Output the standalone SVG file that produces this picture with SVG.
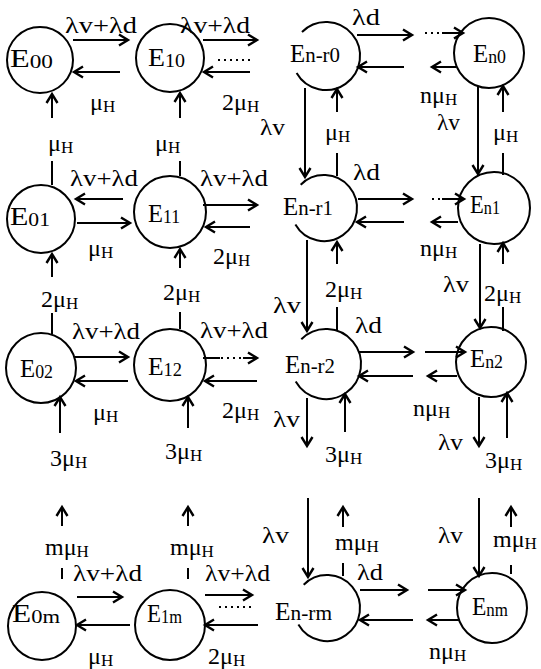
<svg xmlns="http://www.w3.org/2000/svg" width="541" height="669" viewBox="0 0 541 669">
<defs>
<marker id="a" markerUnits="userSpaceOnUse" markerWidth="14" markerHeight="14" viewBox="-11 -7 14 14" refX="0" refY="0" orient="auto">
<path d="M-9,-5.5 L0,0 L-9,5.5" fill="none" stroke="#000" stroke-width="2.4"/>
</marker>
</defs>
<style>
.c{fill:none;stroke:#000;stroke-width:2}
.l{stroke:#000;stroke-width:2;fill:none}
.ar{stroke:#000;stroke-width:2;fill:none;marker-end:url(#a)}
.d{stroke:#000;stroke-width:2;fill:none;stroke-dasharray:2 4}
.t{font-family:"Liberation Serif","DejaVu Serif",serif;font-size:24px;fill:#000}
.s{font-size:17px}
.n{font-family:"Liberation Serif","DejaVu Serif",serif;font-size:25px;fill:#000}
.ns{font-size:18px}
.nr{font-size:21px}
</style>
<rect width="541" height="669" fill="#fff"/>
<g id="connectors">
<line class="ar" x1="73" y1="40" x2="128" y2="40"/>
<line class="ar" x1="120" y1="72" x2="74" y2="72"/>
<line class="ar" x1="203" y1="40" x2="257" y2="40"/>
<line class="ar" x1="250" y1="72" x2="204" y2="72"/>
<line class="d" x1="218" y1="60" x2="252" y2="60"/>
<line class="ar" x1="357" y1="35" x2="412" y2="35"/>
<line class="d" x1="425" y1="33" x2="442" y2="33"/>
<line class="ar" x1="442" y1="33" x2="463" y2="33"/>
<line class="ar" x1="404" y1="67" x2="358" y2="67"/>
<line class="ar" x1="456" y1="67" x2="432" y2="67"/>
<line class="l" x1="52" y1="185" x2="52" y2="161"/>
<line class="ar" x1="52" y1="118" x2="52" y2="94"/>
<line class="l" x1="180" y1="176" x2="180" y2="161"/>
<line class="ar" x1="180" y1="118" x2="180" y2="93"/>
<line class="ar" x1="305" y1="88" x2="305" y2="177"/>
<line class="l" x1="337" y1="176" x2="337" y2="153"/>
<line class="ar" x1="337" y1="112" x2="337" y2="89"/>
<line class="ar" x1="478" y1="87" x2="478" y2="174"/>
<line class="l" x1="503" y1="175" x2="503" y2="153"/>
<line class="ar" x1="503" y1="112" x2="503" y2="86"/>
<line class="ar" x1="123" y1="199" x2="76" y2="199"/>
<line class="ar" x1="77" y1="223" x2="130" y2="223"/>
<line class="ar" x1="203" y1="205" x2="257" y2="205"/>
<line class="ar" x1="250" y1="227" x2="206" y2="227"/>
<line class="ar" x1="358" y1="199" x2="412" y2="199"/>
<line class="d" x1="432" y1="199" x2="442" y2="199"/>
<line class="ar" x1="442" y1="199" x2="464" y2="199"/>
<line class="ar" x1="404" y1="222" x2="357" y2="222"/>
<line class="ar" x1="458" y1="222" x2="432" y2="222"/>
<line class="ar" x1="52" y1="277" x2="52" y2="254"/>
<line class="l" x1="52" y1="313" x2="52" y2="334"/>
<line class="ar" x1="180" y1="268" x2="180" y2="249"/>
<line class="l" x1="180" y1="312" x2="180" y2="329"/>
<line class="ar" x1="307" y1="240" x2="307" y2="331"/>
<line class="ar" x1="337" y1="264" x2="337" y2="242"/>
<line class="l" x1="337" y1="307" x2="337" y2="331"/>
<line class="ar" x1="480" y1="244" x2="480" y2="328"/>
<line class="ar" x1="503" y1="264" x2="503" y2="243"/>
<line class="l" x1="503" y1="307" x2="503" y2="331"/>
<line class="ar" x1="75" y1="357" x2="128" y2="357"/>
<line class="ar" x1="128" y1="381" x2="76" y2="381"/>
<line class="l" x1="203" y1="358" x2="220" y2="358"/>
<line class="d" x1="221" y1="358" x2="242" y2="358"/>
<line class="ar" x1="243" y1="358" x2="257" y2="358"/>
<line class="ar" x1="257" y1="381" x2="205" y2="381"/>
<line class="ar" x1="60" y1="433" x2="60" y2="397"/>
<line class="ar" x1="188" y1="428" x2="188" y2="397"/>
<line class="ar" x1="359" y1="352" x2="413" y2="352"/>
<line class="ar" x1="425" y1="352" x2="465" y2="352"/>
<line class="ar" x1="413" y1="376" x2="359" y2="376"/>
<line class="ar" x1="457" y1="376" x2="428" y2="376"/>
<line class="ar" x1="307" y1="398" x2="307" y2="446"/>
<line class="ar" x1="345" y1="432" x2="345" y2="394"/>
<line class="ar" x1="479" y1="397" x2="479" y2="446"/>
<line class="ar" x1="507" y1="438" x2="507" y2="393"/>
<line class="ar" x1="62" y1="526" x2="62" y2="507"/>
<line class="l" x1="62" y1="568" x2="62" y2="579"/>
<line class="ar" x1="188" y1="526" x2="188" y2="507"/>
<line class="l" x1="188" y1="568" x2="188" y2="579"/>
<line class="ar" x1="77" y1="597" x2="122" y2="597"/>
<line class="ar" x1="130" y1="625" x2="77" y2="625"/>
<line class="ar" x1="205" y1="595" x2="252" y2="595"/>
<line class="d" x1="219" y1="607" x2="253" y2="607"/>
<line class="ar" x1="258" y1="625" x2="205" y2="625"/>
<line class="ar" x1="308" y1="498" x2="308" y2="577"/>
<line class="ar" x1="343" y1="527" x2="343" y2="507"/>
<line class="l" x1="343" y1="563" x2="343" y2="576"/>
<line class="ar" x1="360" y1="590" x2="407" y2="590"/>
<line class="ar" x1="428" y1="590" x2="465" y2="590"/>
<line class="ar" x1="413" y1="620" x2="360" y2="620"/>
<line class="ar" x1="460" y1="620" x2="428" y2="620"/>
<line class="ar" x1="479" y1="498" x2="479" y2="576"/>
<line class="ar" x1="511" y1="527" x2="511" y2="507"/>
<line class="l" x1="511" y1="565" x2="511" y2="574"/>
</g>
<g id="labels">
<text class="t" x="65" y="33" textLength="72" lengthAdjust="spacingAndGlyphs">λv+λd</text>
<text class="t" x="90" y="110">μ<tspan class="s" dy="2">H</tspan></text>
<text class="t" x="180" y="33" textLength="70" lengthAdjust="spacingAndGlyphs">λv+λd</text>
<text class="t" x="222" y="110">2μ<tspan class="s" dy="2">H</tspan></text>
<text class="t" x="352" y="25" textLength="28" lengthAdjust="spacingAndGlyphs">λd</text>
<text class="t" x="420" y="103">nμ<tspan class="s" dy="2">H</tspan></text>
<text class="t" x="260" y="135" textLength="25" lengthAdjust="spacingAndGlyphs">λv</text>
<text class="t" x="325" y="140">μ<tspan class="s" dy="2">H</tspan></text>
<text class="t" x="437" y="130" textLength="23" lengthAdjust="spacingAndGlyphs">λv</text>
<text class="t" x="493" y="140">μ<tspan class="s" dy="2">H</tspan></text>
<text class="t" x="48" y="151">μ<tspan class="s" dy="2">H</tspan></text>
<text class="t" x="155" y="151">μ<tspan class="s" dy="2">H</tspan></text>
<text class="t" x="70" y="186" textLength="68" lengthAdjust="spacingAndGlyphs">λv+λd</text>
<text class="t" x="88" y="256">μ<tspan class="s" dy="2">H</tspan></text>
<text class="t" x="200" y="186" textLength="68" lengthAdjust="spacingAndGlyphs">λv+λd</text>
<text class="t" x="213" y="264">2μ<tspan class="s" dy="2">H</tspan></text>
<text class="t" x="41" y="307">2μ<tspan class="s" dy="2">H</tspan></text>
<text class="t" x="163" y="300">2μ<tspan class="s" dy="2">H</tspan></text>
<text class="t" x="353" y="180" textLength="27" lengthAdjust="spacingAndGlyphs">λd</text>
<text class="t" x="420" y="256">nμ<tspan class="s" dy="2">H</tspan></text>
<text class="t" x="273" y="313" textLength="28" lengthAdjust="spacingAndGlyphs">λv</text>
<text class="t" x="325" y="297">2μ<tspan class="s" dy="2">H</tspan></text>
<text class="t" x="443" y="292" textLength="26" lengthAdjust="spacingAndGlyphs">λv</text>
<text class="t" x="484" y="301">2μ<tspan class="s" dy="2">H</tspan></text>
<text class="t" x="72" y="339" textLength="68" lengthAdjust="spacingAndGlyphs">λv+λd</text>
<text class="t" x="93" y="420">μ<tspan class="s" dy="2">H</tspan></text>
<text class="t" x="200" y="338" textLength="68" lengthAdjust="spacingAndGlyphs">λv+λd</text>
<text class="t" x="222" y="418">2μ<tspan class="s" dy="2">H</tspan></text>
<text class="t" x="50" y="466">3μ<tspan class="s" dy="2">H</tspan></text>
<text class="t" x="165" y="459">3μ<tspan class="s" dy="2">H</tspan></text>
<text class="t" x="355" y="333" textLength="27" lengthAdjust="spacingAndGlyphs">λd</text>
<text class="t" x="413" y="416">nμ<tspan class="s" dy="2">H</tspan></text>
<text class="t" x="273" y="427" textLength="27" lengthAdjust="spacingAndGlyphs">λv</text>
<text class="t" x="325" y="462">3μ<tspan class="s" dy="2">H</tspan></text>
<text class="t" x="438" y="450" textLength="25" lengthAdjust="spacingAndGlyphs">λv</text>
<text class="t" x="485" y="468">3μ<tspan class="s" dy="2">H</tspan></text>
<text class="t" x="45" y="555">mμ<tspan class="s" dy="2">H</tspan></text>
<text class="t" x="170" y="555">mμ<tspan class="s" dy="2">H</tspan></text>
<text class="t" x="73" y="581" textLength="69" lengthAdjust="spacingAndGlyphs">λv+λd</text>
<text class="t" x="88" y="664">μ<tspan class="s" dy="2">H</tspan></text>
<text class="t" x="205" y="581" textLength="65" lengthAdjust="spacingAndGlyphs">λv+λd</text>
<text class="t" x="208" y="664">2μ<tspan class="s" dy="2">H</tspan></text>
<text class="t" x="262" y="543" textLength="27" lengthAdjust="spacingAndGlyphs">λv</text>
<text class="t" x="335" y="550">mμ<tspan class="s" dy="2">H</tspan></text>
<text class="t" x="357" y="580" textLength="26" lengthAdjust="spacingAndGlyphs">λd</text>
<text class="t" x="429" y="659">nμ<tspan class="s" dy="2">H</tspan></text>
<text class="t" x="438" y="543" textLength="25" lengthAdjust="spacingAndGlyphs">λv</text>
<text class="t" x="493" y="547">mμ<tspan class="s" dy="2">H</tspan></text>
</g>
<g id="E00"><circle class="c" cx="40" cy="60" r="33"/><text class="n" x="10" y="67" textLength="43" lengthAdjust="spacingAndGlyphs">E<tspan class="ns" dy="1">00</tspan></text></g>
<g id="E10"><circle class="c" cx="170" cy="58" r="34"/><text class="n" x="148" y="66" textLength="37" lengthAdjust="spacingAndGlyphs">E<tspan class="ns" dy="1">10</tspan></text></g>
<g id="En-r0"><path class="c" d="M302,32 A34,34 0 1 1 296.6,73"/><text class="n" x="290" y="62" textLength="50" lengthAdjust="spacingAndGlyphs">E<tspan class="nr">n-r0</tspan></text></g>
<g id="En0"><circle class="c" cx="489" cy="53" r="35"/><text class="n" x="473" y="62" textLength="33" lengthAdjust="spacingAndGlyphs">E<tspan class="ns" dy="1">n0</tspan></text></g>
<g id="E01"><circle class="c" cx="41" cy="219" r="34"/><text class="n" x="10" y="225" textLength="40" lengthAdjust="spacingAndGlyphs">E<tspan class="ns" dy="1">01</tspan></text></g>
<g id="E11"><circle class="c" cx="170" cy="212" r="36"/><text class="n" x="148" y="222" textLength="32" lengthAdjust="spacingAndGlyphs">E<tspan class="ns" dy="1">11</tspan></text></g>
<g id="En-r1"><path class="c" d="M300.7,184.7 A33,33 0 1 1 295.4,224.5"/><text class="n" x="283" y="215" textLength="50" lengthAdjust="spacingAndGlyphs">E<tspan class="nr">n-r1</tspan></text></g>
<g id="En1"><circle class="c" cx="494" cy="208" r="36"/><text class="n" x="470" y="213" textLength="30" lengthAdjust="spacingAndGlyphs">E<tspan class="ns" dy="1">n1</tspan></text></g>
<g id="E02"><circle class="c" cx="41" cy="368" r="35"/><text class="n" x="20" y="377" textLength="33" lengthAdjust="spacingAndGlyphs">E<tspan class="ns" dy="1">02</tspan></text></g>
<g id="E12"><circle class="c" cx="170" cy="365" r="36"/><text class="n" x="148" y="375" textLength="34" lengthAdjust="spacingAndGlyphs">E<tspan class="ns" dy="1">12</tspan></text></g>
<g id="En-r2"><path class="c" d="M301.3,339.3 A35,35 0 1 1 295.7,381.5"/><text class="n" x="285" y="373" textLength="50" lengthAdjust="spacingAndGlyphs">E<tspan class="nr">n-r2</tspan></text></g>
<g id="En2"><circle class="c" cx="491" cy="362" r="35"/><text class="n" x="470" y="367" textLength="33" lengthAdjust="spacingAndGlyphs">E<tspan class="ns" dy="1">n2</tspan></text></g>
<g id="E0m"><circle class="c" cx="42" cy="626" r="34"/><text class="n" x="12" y="622" textLength="48" lengthAdjust="spacingAndGlyphs">E<tspan class="ns" dy="1">0m</tspan></text></g>
<g id="E1m"><circle class="c" cx="170" cy="625" r="35"/><text class="n" x="147" y="622" textLength="35" lengthAdjust="spacingAndGlyphs">E<tspan class="ns" dy="1">1m</tspan></text></g>
<g id="En-rm"><path class="c" d="M303.7,584.7 A33,33 0 1 1 298.4,624.5"/><text class="n" x="275" y="620" textLength="57" lengthAdjust="spacingAndGlyphs">E<tspan class="nr">n-rm</tspan></text></g>
<g id="Enm"><circle class="c" cx="492" cy="608" r="35"/><text class="n" x="472" y="615" textLength="36" lengthAdjust="spacingAndGlyphs">E<tspan class="ns" dy="1">nm</tspan></text></g>
</svg>
